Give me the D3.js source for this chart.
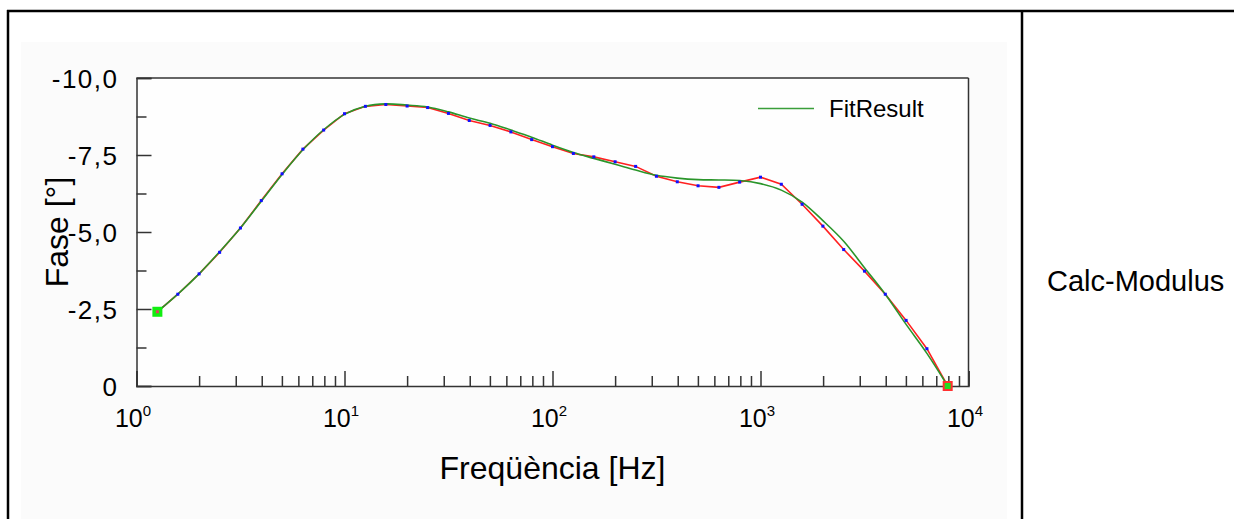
<!DOCTYPE html>
<html lang="ca">
<head>
<meta charset="UTF-8">
<title>Fase vs Freqüència</title>
<script src="https://cdnjs.cloudflare.com/ajax/libs/d3/7.8.5/d3.min.js"></script>
<style>
    html, body { margin: 0; padding: 0; background: #fff; }
    svg { display: block; font-family: Arial, 'Liberation Sans', sans-serif; }
    .axis path, .axis line { stroke: #333; stroke-width: 1.5px; }
    .axis text { fill: #000; }
</style>
</head>
<body>
<svg id="chart" width="1234" height="519"></svg>
<script>
// frequencies (Hz), one point every 0.1 decade
const freq = [1.26, 1.58, 2, 2.51, 3.16, 3.98, 5.01, 6.31, 7.94, 10,
    12.6, 15.8, 20, 25.1, 31.6, 39.8, 50.1, 63.1, 79.4, 100,
    126, 158, 200, 251, 316, 398, 501, 631, 794, 1000,
    1259, 1585, 1995, 2512, 3162, 3981, 5012, 6310, 7943];

// measured phase (degrees)
const phase = [-2.41, -2.98, -3.64, -4.34, -5.13, -6.02, -6.89, -7.69, -8.31, -8.84,
    -9.08, -9.14, -9.09, -9.04, -8.85, -8.62, -8.46, -8.25, -8.00, -7.77,
    -7.55, -7.44, -7.28, -7.13, -6.81, -6.63, -6.50, -6.45, -6.62, -6.78,
    -6.55, -5.90, -5.19, -4.43, -3.73, -2.98, -2.13, -1.21, 0.0];

// fitted phase (degrees)
const fitPhase = [-2.41, -2.98, -3.64, -4.36, -5.13, -6.00, -6.87, -7.67, -8.32, -8.82,
    -9.08, -9.16, -9.12, -9.06, -8.90, -8.70, -8.53, -8.31, -8.08, -7.82,
    -7.58, -7.39, -7.20, -7.01, -6.84, -6.75, -6.70, -6.69, -6.67, -6.57,
    -6.36, -5.97, -5.37, -4.70, -3.84, -2.98, -2.00, -1.06, 0.0];

const yTicks = [0, -2.5, -5, -7.5, -10];
const yMinor = [-1.25, -3.75, -6.25, -8.75];
const xTicks = [1, 10, 100, 1000, 10000];

const svg = d3.select("#chart");

// outer frame of the table
svg.append("rect").attr("x", 21).attr("y", 42).attr("width", 986).attr("height", 477).attr("fill", "#fbfbfb");
svg.append("line").attr("x1", 7).attr("x2", 1234).attr("y1", 11).attr("y2", 11).attr("stroke", "#000").attr("stroke-width", 2.5);
svg.append("line").attr("x1", 8).attr("x2", 8).attr("y1", 10).attr("y2", 519).attr("stroke", "#000").attr("stroke-width", 2.5);
svg.append("line").attr("x1", 1022).attr("x2", 1022).attr("y1", 10).attr("y2", 519).attr("stroke", "#000").attr("stroke-width", 2.5);

svg.append("text").attr("x", 1047).attr("y", 291)
    .attr("font-size", 29).text("Calc-Modulus");

const pLeft = 136.5, pRight = 968.5, pTop = 78, pBottom = 386;

const x = d3.scaleLog().domain([1, 10000]).range([pLeft, pRight]);
const y = d3.scaleLinear().domain([0, -10]).range([pBottom, pTop]);

svg.append("rect").attr("x", pLeft).attr("y", pTop).attr("width", pRight - pLeft).attr("height", pBottom - pTop)
    .attr("fill", "#fefefe");

const loc = d3.formatLocale({decimal: ",", thousands: ".", grouping: [3], currency: ["", ""], minus: "-"});
const f1 = loc.format(".1f");

// y axis
const yAxis = svg.append("g").attr("class", "axis").attr("transform", `translate(${pLeft},0)`)
    .call(d3.axisLeft(y).tickValues(yTicks).tickSize(-15).tickPadding(18)
        .tickFormat(d => d === 0 ? "0" : f1(d)));
yAxis.selectAll("text").attr("font-size", 26).attr("letter-spacing", 1.5).attr("dy", "0.36em");
svg.append("g").attr("class", "axis").attr("transform", `translate(${pLeft},0)`)
    .call(d3.axisLeft(y).tickValues(yMinor).tickSize(-10).tickFormat(""))
    .select(".domain").remove();

// x axis
const xAxis = svg.append("g").attr("class", "axis").attr("transform", `translate(0,${pBottom})`)
    .call(d3.axisBottom(x).tickValues(xTicks).tickSize(-15).tickPadding(23).tickFormat(""));
xAxis.selectAll(".tick text").each(function(d) {
    const t = d3.select(this).attr("font-size", 25).attr("dy", "0.71em").attr("dx", -4);
    t.append("tspan").text("10");
    t.append("tspan").attr("font-size", 15).attr("dy", "-0.75em").text(Math.round(Math.log10(d)));
});
const xMinor = [];
[1, 10, 100, 1000].forEach(dec => [2, 3, 4, 5, 6, 7, 8, 9].forEach(m => xMinor.push(dec * m)));
svg.append("g").attr("class", "axis").attr("transform", `translate(0,${pBottom})`)
    .call(d3.axisBottom(x).tickValues(xMinor).tickSize(-10).tickFormat(""))
    .select(".domain").remove();

// frame top and right
svg.append("line").attr("x1", pLeft).attr("x2", pRight).attr("y1", pTop).attr("y2", pTop).attr("stroke", "#333").attr("stroke-width", 1.5);
svg.append("line").attr("x1", pRight).attr("x2", pRight).attr("y1", pTop).attr("y2", pBottom).attr("stroke", "#333").attr("stroke-width", 1.5);

// axis titles
svg.append("text").attr("x", (pLeft + pRight) / 2).attr("y", 479).attr("text-anchor", "middle")
    .attr("font-size", 32).text("Freqüència [Hz]");
svg.append("text").attr("transform", `translate(68,${(pTop + pBottom) / 2}) rotate(-90)`)
    .attr("text-anchor", "middle").attr("font-size", 32).text("Fase [°]");

const measured = freq.map((f, i) => ({f, v: phase[i]}));
const fitted = freq.map((f, i) => ({f, v: fitPhase[i]}));

svg.append("path").datum(measured)
    .attr("fill", "none").attr("stroke", "#ff2020").attr("stroke-width", 1.6)
    .attr("d", d3.line().x(d => x(d.f)).y(d => y(d.v)));

svg.append("path").datum(fitted)
    .attr("fill", "none").attr("stroke", "#2a952a").attr("stroke-width", 1.6)
    .attr("d", d3.line().curve(d3.curveCatmullRom).x(d => x(d.f)).y(d => y(d.v)));

svg.append("g").selectAll("rect").data(measured.slice(1, -1)).join("rect")
    .attr("x", d => x(d.f) - 1.5).attr("y", d => y(d.v) - 1.5)
    .attr("width", 3).attr("height", 3).attr("fill", "#1010ff");

// end markers
const first = measured[0], last = measured[measured.length - 1];
svg.append("rect").attr("x", x(first.f) - 5).attr("y", y(first.v) - 5).attr("width", 10).attr("height", 10).attr("fill", "#11ee11");
svg.append("rect").attr("x", x(first.f) - 1.5).attr("y", y(first.v) - 1.5).attr("width", 3).attr("height", 3).attr("fill", "#e04060");
svg.append("rect").attr("x", x(last.f) - 5).attr("y", y(last.v) - 5).attr("width", 10).attr("height", 10).attr("fill", "#ff3030");
svg.append("rect").attr("x", x(last.f) - 3).attr("y", y(last.v) - 3).attr("width", 6).attr("height", 6).attr("fill", "#22dd22");

// legend
svg.append("line").attr("x1", 758).attr("x2", 814).attr("y1", 108.5).attr("y2", 108.5)
    .attr("stroke", "#3a9e3a").attr("stroke-width", 1.6);
svg.append("text").attr("x", 829).attr("y", 117).attr("font-size", 24).text("FitResult");
</script>
</body>
</html>
